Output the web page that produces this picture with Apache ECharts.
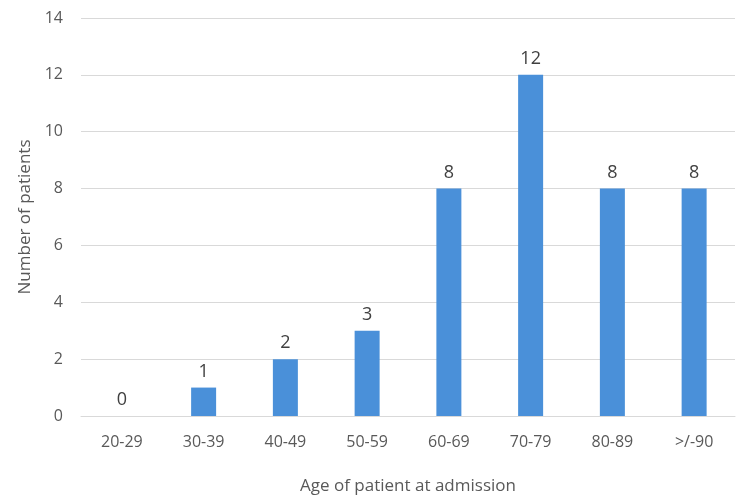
<!DOCTYPE html>
<html><head><meta charset="utf-8">
<script src="https://cdn.jsdelivr.net/npm/echarts@6/dist/echarts.min.js"></script>
<style>html,body{margin:0;padding:0;background:#fff}#c{width:750px;height:500px}</style>
</head><body><div id="c"></div>
<script>
const categories = ['20-29','30-39','40-49','50-59','60-69','70-79','80-89','>/-90'];
const patients = [0,1,2,3,8,12,8,8];
const yTicks = [0,2,4,6,8,10,12,14];
const chart = echarts.init(document.getElementById('c'));
const font = '"Open Sans", "Liberation Sans", sans-serif';
chart.setOption({
  animation:false,
  grid:{left:81,right:15,top:18,bottom:79},
  xAxis:{type:'category',data:categories,
    name:'Age of patient at admission',nameLocation:'middle',nameGap:62,
    nameTextStyle:{fontFamily:font,fontSize:17,color:'#595959'},
    axisLine:{lineStyle:{color:'#d9d9d9'}},axisTick:{show:false},
    axisLabel:{fontFamily:font,fontSize:16,color:'#595959',margin:18}},
  yAxis:{type:'value',min:0,max:14,interval:2,
    name:'Number of patients',nameLocation:'middle',nameGap:35,
    nameTextStyle:{fontFamily:font,fontSize:17,color:'#595959'},
    axisLine:{show:false},axisTick:{show:false},
    axisLabel:{fontFamily:font,fontSize:16,color:'#595959',margin:18,
      formatter:v=>yTicks.includes(v)?String(v):''},
    splitLine:{lineStyle:{color:'#d9d9d9'}}},
  series:[{type:'bar',data:patients,barWidth:25,
    itemStyle:{color:'#4a90d9'},
    label:{show:true,position:'top',distance:7,fontFamily:font,fontSize:18,color:'#404040'}}]
});
</script></body></html>
